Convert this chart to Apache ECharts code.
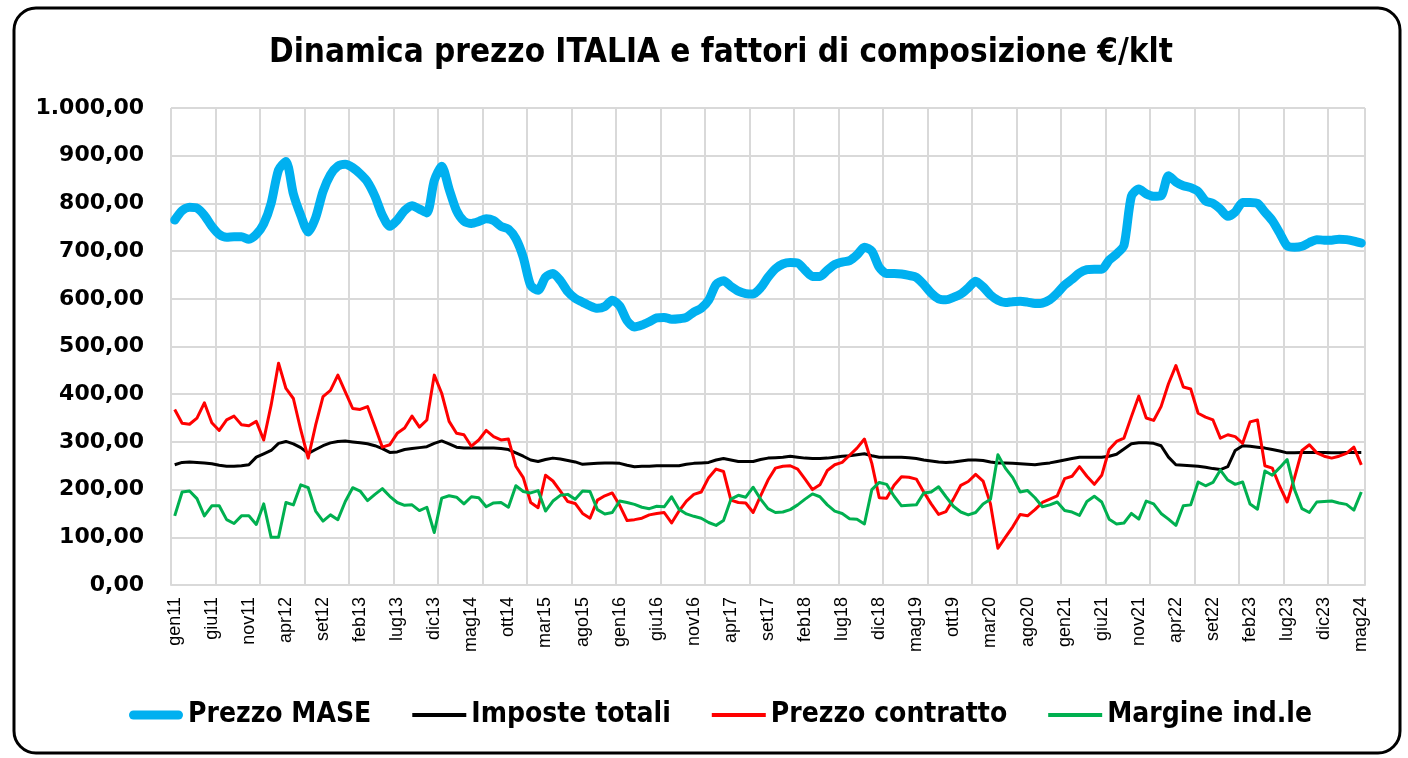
<!DOCTYPE html>
<html>
<head>
<meta charset="utf-8">
<script src="https://cdn.jsdelivr.net/npm/echarts@6/dist/echarts.min.js"></script>
<style>
html,body{margin:0;padding:0;background:#fff;}
#chart{width:1408px;height:758px;}
</style>
</head>
<body>
<div id="chart"></div>
<script>
const monthNames = ['gen','feb','mar','apr','mag','giu','lug','ago','set','ott','nov','dic'];
const years = ['11','12','13','14','15','16','17','18','19','20','21','22','23','24'];
const monthsInLastYear = 5;

const prezzoMase = [
765,785,792,790,775,752,735,729,730,730,725,735,
757,800,870,888,820,775,740,770,825,860,878,882,
875,862,845,815,775,752,765,785,795,788,780,848,
878,830,785,763,758,762,768,764,752,746,726,687,
628,618,645,653,638,615,601,593,585,580,584,597,
585,554,541,545,552,560,561,557,558,561,572,580,
597,630,638,626,616,611,610,623,645,663,673,676,
675,660,647,647,660,672,677,680,692,708,700,666,
653,653,652,649,645,630,612,600,598,603,610,623,
637,625,608,597,592,594,595,593,590,591,598,612,
629,641,654,661,662,662,681,694,712,815,830,820,
815,816,858,845,837,833,825,805,800,788,773,782,
802,802,800,782,764,738,711,708,710,718,724,723,
723,725,724,721,717];

const imposteTotali = [
252,257,258,257,256,254,251,249,249,250,252,268,
275,282,297,301,296,288,276,284,292,298,301,302,
300,298,296,292,286,278,279,284,286,288,290,297,
302,296,289,287,287,287,287,287,286,284,277,270,
262,259,263,266,264,261,258,253,254,255,256,256,
255,251,248,249,249,250,250,250,250,253,255,256,
257,262,265,262,259,259,259,263,266,267,268,270,
268,266,265,265,266,268,270,271,273,275,271,268,
268,268,268,267,265,262,260,258,257,258,260,262,
262,261,258,256,256,255,254,253,252,254,256,259,
262,265,268,268,268,268,270,274,285,296,298,298,
297,292,268,252,251,250,249,247,244,242,248,282,
292,291,289,287,284,281,277,277,278,278,278,278,
277,277,278,278,278];

const prezzoContratto = [
368,339,337,350,382,340,324,346,354,336,334,343,
304,377,465,412,391,325,266,335,395,408,440,405,
370,368,374,332,289,294,318,329,354,331,346,440,
402,343,318,315,291,304,324,311,304,306,249,225,
173,162,230,218,197,175,171,150,140,178,187,193,
167,135,137,140,147,150,152,130,155,176,190,195,
225,243,238,178,173,172,152,187,220,245,249,250,
243,222,200,210,240,252,257,272,287,306,255,183,
182,209,227,226,222,195,170,148,154,180,209,217,
232,218,170,77,100,122,148,145,158,173,180,187,
223,228,248,228,211,230,284,301,308,353,396,350,
345,374,422,460,415,411,360,352,346,308,315,311,
297,342,346,250,245,207,174,225,282,294,277,270,
266,270,276,289,252];

const margineIndle = [
145,195,197,181,145,166,166,137,129,145,145,127,
170,100,100,173,168,210,204,155,134,147,137,175,
204,197,177,190,202,186,173,167,168,156,163,110,
182,187,184,170,185,183,164,172,173,163,208,196,
193,198,155,176,188,190,180,197,196,158,149,152,
176,173,169,163,160,165,164,185,159,149,144,140,
131,125,135,180,188,184,205,180,160,152,153,158,
168,180,191,185,168,155,150,139,138,128,200,215,
211,186,166,167,168,193,195,206,185,165,153,147,
152,170,180,273,245,225,195,198,183,164,168,174,
156,153,146,175,186,174,138,128,130,150,138,176,
170,150,138,125,166,168,216,208,215,241,220,211,
216,170,159,239,230,246,263,200,160,152,174,175,
176,172,169,157,195];

const yTicks = [0,100,200,300,400,500,600,700,800,900,1000];

const categories = [];
years.forEach((y, yi) => {
  const n = (yi === years.length - 1) ? monthsInLastYear : 12;
  for (let m = 0; m < n; m++) categories.push(monthNames[m] + y);
});

function fmtIt(v){
  const s = Math.round(v).toString().replace(/\B(?=(\d{3})+(?!\d))/g, '.');
  return s + ',00';
}

const narrowFont = '"Liberation Sans Narrow", "DejaVu Sans Condensed", "Liberation Sans", sans-serif';
const thickIcon = 'path://M4.5,0 L49.5,0 A4.5,4.5 0 0 1 49.5,9 L4.5,9 A4.5,4.5 0 0 1 4.5,0 Z';
const thinIcon = 'path://M0,0 L0,0 M0,2.5 L54,2.5 L54,6.5 L0,6.5 Z M54,9 L54,9';

const chart = echarts.init(document.getElementById('chart'), null, {renderer:'canvas'});
const option = {
  animation: false,
  backgroundColor: '#ffffff',
  title: {
    text: 'Dinamica prezzo ITALIA e fattori di composizione €/klt',
    left: 264,
    top: 32,
    textStyle: {fontFamily: narrowFont, fontWeight: 'bold', fontSize: 33, color: '#000'}
  },
  graphic: [{
    type: 'rect',
    shape: {x: 14, y: 8, width: 1386, height: 745, r: 22},
    style: {fill: 'none', stroke: '#000', lineWidth: 3},
    silent: true,
    z: 100
  }],
  grid: {left: 171, right: 43, top: 108, bottom: 173, containLabel: false},
  legend: {
    bottom: 24,
    left: 124,
    itemGap: 41,
    itemWidth: 54,
    itemHeight: 9,
    symbolKeepAspect: false,
    textStyle: {fontFamily: narrowFont, fontWeight: 'bold', fontSize: 28, color: '#000'},
    data: [
      {name: 'Prezzo MASE', icon: thickIcon, itemStyle: {color: '#00B0F0'}},
      {name: 'Imposte totali', icon: thinIcon, itemStyle: {color: '#000000'}},
      {name: 'Prezzo contratto', icon: thinIcon, itemStyle: {color: '#FF0000'}},
      {name: 'Margine ind.le', icon: thinIcon, itemStyle: {color: '#00B050'}}
    ]
  },
  xAxis: {
    type: 'category',
    data: categories,
    boundaryGap: true,
    axisLine: {show: true, lineStyle: {color: '#D9D9D9', width: 2}},
    axisTick: {show: false},
    axisLabel: {
      interval: 4,
      rotate: 90,
      margin: 12,
      fontFamily: '"Liberation Sans", Arial, sans-serif',
      fontSize: 18,
      color: '#000'
    },
    splitLine: {show: true, interval: 5, lineStyle: {color: '#D9D9D9', width: 2}}
  },
  yAxis: {
    type: 'value',
    min: yTicks[0],
    max: yTicks[yTicks.length - 1],
    interval: 100,
    axisLine: {show: false},
    axisTick: {show: false},
    axisLabel: {
      formatter: fmtIt,
      margin: 27,
      fontFamily: '"DejaVu Sans", sans-serif',
      fontWeight: 'bold',
      fontSize: 22,
      color: '#000'
    },
    splitLine: {show: true, lineStyle: {color: '#D9D9D9', width: 2}}
  },
  series: [
    {name: 'Prezzo MASE', type: 'line', data: prezzoMase, symbol: 'none', smooth: 0.25,
     lineStyle: {color: '#00B0F0', width: 9, cap: 'round', join: 'round'}, itemStyle: {color: '#00B0F0'}},
    {name: 'Imposte totali', type: 'line', data: imposteTotali, symbol: 'none',
     lineStyle: {color: '#000000', width: 3, join: 'round'}, itemStyle: {color: '#000000'}},
    {name: 'Prezzo contratto', type: 'line', data: prezzoContratto, symbol: 'none',
     lineStyle: {color: '#FF0000', width: 3, join: 'round'}, itemStyle: {color: '#FF0000'}},
    {name: 'Margine ind.le', type: 'line', data: margineIndle, symbol: 'none',
     lineStyle: {color: '#00B050', width: 3, join: 'round'}, itemStyle: {color: '#00B050'}}
  ]
};
chart.setOption(option);
</script>
</body>
</html>
